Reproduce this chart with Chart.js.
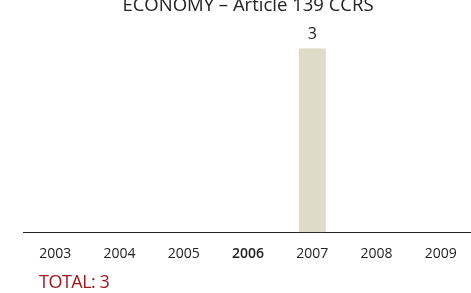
<!DOCTYPE html>
<html>
<head>
<meta charset="utf-8">
<script src="https://cdn.jsdelivr.net/npm/chart.js@4"></script>
<style>
  html, body { margin: 0; padding: 0; background: #fff; overflow: hidden; }
  body { width: 471px; height: 293px; position: relative; }
  #wrap { position: absolute; left: 0; top: -5px; width: 473px; height: 298px; }
  #total { position: absolute; left: 39px; top: 269px; font: 18px "Open Sans", sans-serif; color: #a0161f; letter-spacing: -0.5px; }
</style>
</head>
<body>
<div id="wrap"><canvas id="economyChart"></canvas></div>
<div id="total">TOTAL: 3</div>
<script>
// chart data
const years = ['2003', '2004', '2005', '2006', '2007', '2008', '2009'];
const cases = [0, 0, 0, 0, 3, 0, 0];
const boldYear = '2006';

// writes the value over each non-zero bar
const valueLabels = {
  id: 'valueLabels',
  afterDatasetsDraw(chart) {
    const ctx = chart.ctx;
    const meta = chart.getDatasetMeta(0);
    ctx.save();
    ctx.font = '16px "Open Sans", sans-serif';
    ctx.fillStyle = '#222';
    ctx.textAlign = 'center';
    ctx.textBaseline = 'bottom';
    meta.data.forEach(function(bar, i) {
      if (cases[i] > 0) {
        ctx.fillText(String(cases[i]), bar.x, bar.y - 6);
      }
    });
    ctx.restore();
  }
};

document.addEventListener('DOMContentLoaded', function() {
  const ctx = document.getElementById('economyChart').getContext('2d');

  const data = {
    labels: years,
    datasets: [
      {
        label: 'Cases',
        data: cases,
        backgroundColor: '#dedbc8',
        borderWidth: 0,
        barPercentage: 0.42,
        categoryPercentage: 1
      }
    ]
  };

  const config = {
    type: 'bar',
    data: data,
    options: {
      responsive: true,
      maintainAspectRatio: false,
      animation: false,
      layout: { padding: { left: 23, right: 0, top: 0, bottom: 18 } },
      plugins: {
        legend: { display: false },
        tooltip: { enabled: false },
        title: {
          display: true,
          text: 'ECONOMY – Article 139 CCRS',
          color: '#222',
          font: { family: '"Open Sans", sans-serif', size: 18.5, weight: 'normal' },
          padding: { top: 0, bottom: 31 }
        }
      },
      scales: {
        x: {
          grid: { display: false, drawTicks: false },
          border: { display: true, color: '#222', width: 1 },
          ticks: {
            padding: 13,
            color: '#222',
            font: function(c) {
              return {
                family: '"Open Sans", sans-serif',
                size: 14,
                weight: years[c.index] === boldYear ? '600' : 'normal'
              };
            }
          }
        },
        y: {
          display: false,
          min: 0,
          max: 3
        }
      }
    },
    plugins: [valueLabels]
  };

  new Chart(ctx, config);
});
</script>
</body>
</html>
